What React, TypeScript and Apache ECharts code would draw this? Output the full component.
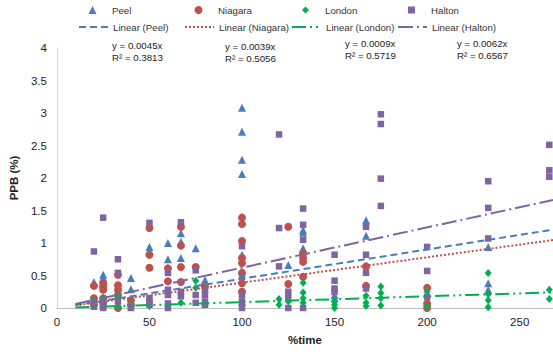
import React, { useEffect, useRef } from "react";
import * as echarts from "echarts";

const seriesNames = ["Peel", "Niagara", "London", "Halton"];
const trendNames = ["Linear (Peel)", "Linear (Niagara)", "Linear (London)", "Linear (Halton)"];
const colors = ["#4a7ebb", "#c0504d", "#00b050", "#8064a2"];
const slopes = [0.0045, 0.0039, 0.0009, 0.0062];
const rSquared = ["0.3813", "0.5056", "0.5719", "0.6567"];
const trendRange = [10, 268];
const xTicks = [0, 50, 100, 150, 200, 250];

const peel = [
  [20, 0.4], [20, 0.1], [25, 0.51], [25, 0.46], [33, 0.2], [40, 0.46], [40, 0.29],
  [50, 0.94], [50, 0.86], [60, 1.0], [60, 0.75], [67, 1.15], [67, 1.02], [67, 0.77],
  [75, 0.92], [80, 0.43], [100, 3.08], [100, 2.71], [100, 2.28], [100, 2.06], [100, 0.82],
  [100, 0.1], [125, 0.66], [133, 1.2], [133, 1.16], [133, 0.92], [150, 0.2], [150, 0.15],
  [167, 1.35], [167, 1.11], [200, 0.1], [233, 0.94], [233, 0.38], [233, 0.28],
];

const niagara = [
  [20, 0.34], [20, 0.15], [20, 0.05], [25, 0.38], [25, 0.33], [25, 0.28], [25, 0.15],
  [25, 0.08], [33, 0.51], [33, 0.35], [33, 0.28], [33, 0.2], [33, 0.0], [40, 0.12], [40, 0.05],
  [50, 1.23], [50, 0.82], [50, 0.62], [60, 0.61], [60, 0.41], [67, 1.25], [67, 0.96], [67, 0.63],
  [67, 0.4], [75, 0.63], [80, 0.33], [100, 1.39], [100, 1.29], [100, 1.03], [100, 0.77],
  [100, 0.69], [100, 0.54], [100, 0.38], [100, 0.25], [125, 1.25], [125, 0.37], [133, 0.84],
  [133, 0.77], [133, 0.71], [133, 0.48], [167, 0.64], [167, 0.34], [200, 0.31], [200, 0.07],
  [200, 0.0],
];

const london = [
  [20, 0.12], [25, 0.15], [33, 0.18], [33, 0.02], [40, 0.05], [50, 0.03], [67, 0.08],
  [75, 0.42], [75, 0.31], [80, 0.05], [100, 0.1], [120, 0.14], [120, 0.05], [125, 0.1],
  [133, 0.39], [133, 0.24], [133, 0.15], [133, 0.08], [150, 0.1], [150, 0.05], [150, 0.0],
  [167, 0.19], [167, 0.08], [167, 0.03], [175, 0.33], [175, 0.23], [175, 0.15], [175, 0.04],
  [200, 0.25], [200, 0.17], [200, 0.02], [233, 0.54], [233, 0.21], [233, 0.12], [233, 0.01],
  [266, 0.28], [266, 0.14],
];

const halton = [
  [20, 0.87], [20, 0.08], [20, 0.02], [25, 1.39], [25, 0.08], [25, 0.03], [25, 0.0], [33, 0.75],
  [33, 0.54], [33, 0.1], [40, 0.02], [40, 0.0], [50, 1.31], [50, 0.15], [50, 0.1], [50, 0.05],
  [60, 0.54], [60, 0.28], [60, 0.2], [60, 0.07], [60, 0.0], [67, 1.32], [67, 0.25], [67, 0.18],
  [75, 0.58], [75, 0.2], [75, 0.08], [80, 0.28], [80, 0.2], [80, 0.1], [80, 0.05], [100, 0.95],
  [100, 0.48], [100, 0.2], [100, 0.1], [100, 0.0], [120, 2.67], [120, 1.23], [120, 0.64],
  [125, 0.25], [125, 0.15], [125, 0.0], [133, 1.53], [133, 1.28], [133, 1.05], [133, 0.0],
  [150, 0.82], [150, 0.42], [150, 0.3], [150, 0.25], [167, 1.25], [167, 0.82], [167, 0.54],
  [167, 0.3], [175, 2.98], [175, 2.83], [175, 1.99], [175, 1.57], [200, 0.94], [200, 0.57],
  [200, 0.17], [233, 1.95], [233, 1.54], [233, 1.07], [266, 2.51], [266, 2.12], [266, 2.02],
];

const FONT = "'Liberation Sans', Arial, sans-serif";

export default function App() {
  const ref = useRef<HTMLDivElement>(null);
  useEffect(() => {
    if (!ref.current) return;
    const chart = echarts.init(ref.current, null, { renderer: "svg" });
    const data = [peel, niagara, london, halton];
    const symbols = ["triangle", "circle", "diamond", "rect"];
    const sizes: any[] = [8, 8, [7, 8], 6.5];
    const legendSizes = [8, 8, 7, 7];
    const dashes: any[] = [[7, 4], [2, 2], [14, 4, 2, 4, 2, 4], [15, 4, 2, 4]];

    const scatter = seriesNames.map((name, i) => ({
      name,
      type: "scatter",
      data: data[i],
      symbol: symbols[i],
      symbolSize: sizes[i],
      itemStyle: { color: colors[i], opacity: 1 },
      z: 2 + i,
    }));
    const lines = trendNames.map((name, i) => ({
      name,
      type: "line",
      data: trendRange.map((x) => [x, slopes[i] * x]),
      symbol: "none",
      showSymbol: false,
      lineStyle: { color: colors[i], width: 2, type: dashes[i] },
      itemStyle: { color: colors[i] },
      z: 10,
    }));

    const iconLefts = [78, 184, 291, 397];
    const legends: any[] = [];
    seriesNames.forEach((n, i) => {
      const s = legendSizes[i];
      const left = iconLefts[i] + 14.5 - s / 2;
      const textX = iconLefts[i] + 34;
      legends.push({
        data: [n],
        left,
        top: 5,
        padding: 0,
        itemWidth: s,
        itemHeight: s,
        textStyle: {
          fontSize: 9.7,
          color: "#333",
          fontFamily: FONT,
          padding: [0, 0, 0, textX - (left + s + 5)],
        },
      });
    });
    trendNames.forEach((n, i) =>
      legends.push({
        data: [n],
        left: iconLefts[i],
        top: 22,
        padding: 0,
        itemWidth: 29,
        itemHeight: 7,
        itemStyle: { opacity: 0 },
        textStyle: { fontSize: 9.7, color: "#333", fontFamily: FONT },
      })
    );

    const eqLeft = [112, 225, 345, 457];
    const eqTop = [40, 41, 38, 38];
    const graphics = slopes.map((k, i) => ({
      type: "text",
      left: eqLeft[i],
      top: eqTop[i],
      style: {
        text: `y = ${k.toFixed(4)}x\nR² = ${rSquared[i]}`,
        font: `9.7px ${FONT}`,
        fill: "#222",
        lineHeight: 11.5,
      },
    }));

    chart.setOption({
      animation: false,
      grid: { left: 56, right: 0, top: 48, bottom: 46, containLabel: false },
      legend: legends,
      graphic: graphics,
      xAxis: {
        type: "value",
        min: 0,
        max: 268,
        interval: 50,
        name: "%time",
        nameLocation: "middle",
        nameGap: 26,
        nameTextStyle: { fontWeight: "bold", fontSize: 11.5, color: "#222", fontFamily: FONT },
        axisLine: { show: true, lineStyle: { color: "#bfbfbf", width: 1 } },
        axisTick: { show: false },
        splitLine: { show: false },
        axisLabel: {
          fontSize: 11.5,
          color: "#222",
          fontFamily: FONT,
          margin: 8,
          showMaxLabel: false,
          formatter: (v: number) => (xTicks.includes(v) ? String(v) : ""),
        },
      },
      yAxis: {
        type: "value",
        min: 0,
        max: 4,
        interval: 0.5,
        name: "PPB (%)",
        nameLocation: "middle",
        nameGap: 32,
        nameRotate: 90,
        nameTextStyle: { fontWeight: "bold", fontSize: 11.5, color: "#222", fontFamily: FONT },
        axisLine: { show: true, lineStyle: { color: "#d9d9d9", width: 1 } },
        axisTick: { show: false },
        splitLine: { show: false },
        axisLabel: { fontSize: 11.5, color: "#222", fontFamily: FONT, margin: 10 },
      },
      series: [...scatter, ...lines],
    });
    return () => chart.dispose();
  }, []);
  return (
    <div
      ref={ref}
      style={{ position: "fixed", left: 0, top: 0, width: 553, height: 354, background: "#fff" }}
    />
  );
}
